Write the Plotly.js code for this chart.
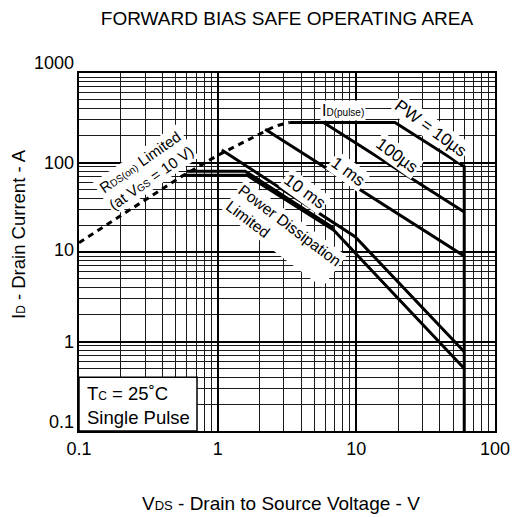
<!DOCTYPE html>
<html><head><meta charset="utf-8">
<script src="https://cdn.plot.ly/plotly-3.0.1.min.js"></script>
<style>html,body{margin:0;padding:0;background:#fff}#chart{width:516px;height:517px}</style>
</head><body><div id="chart"></div>
<script>
// Data (V in volts, I in amperes)
const rdsV = [0.1, 0.3, 0.55, 1.0, 1.5, 2.0, 2.6, 3.3];
const rdsI = [12.7, 38, 70, 120, 165, 210, 255, 280];
const pw10usV = [3.3, 19, 60, 60];
const pw10usI = [280, 280, 90, 0.1];
const pw100usV = [5.8, 60];
const pw100usI = [280, 28];
const pw1msV = [2.2, 60];
const pw1msI = [235, 9];
const pw10msV = [1.07, 9.8, 60];
const pw10msI = [138, 14.8, 0.77];
const idDcV = [0.6, 1.58, 6.85];
const idDcI = [80, 80, 18.5];
const dcV = [0.58, 1.63, 6.85, 60];
const dcI = [72, 72, 17.6, 0.5];
const xTicks = [0.1, 1, 10, 100];
const xTickText = ['0.1', '1', '10', '100'];
const yTicks = [0.1, 1, 10, 100, 1000];
const yTickText = ['0.1', '1', '10', '100', '1000'];

const FONT = 'Liberation Sans, Arial, sans-serif';
const solid = {color: '#000', width: 3};
function tr(x, y, line) { return {x: x, y: y, type: 'scatter', mode: 'lines', line: line, hoverinfo: 'skip', showlegend: false}; }
function small(t, px) { return '<span style="font-size:' + px + 'px">' + t + '</span>'; }

const traces = [
  tr(rdsV, rdsI, {color: '#000', width: 3, dash: '6px,5px'}),
  tr(pw10usV, pw10usI, solid),
  tr(pw100usV, pw100usI, solid),
  tr(pw1msV, pw1msI, solid),
  tr(pw10msV, pw10msI, solid),
  tr(idDcV, idDcI, solid),
  tr(dcV, dcI, solid)
];

function lbl(text, x, y, angle, size, extra) {
  return Object.assign({text: text, xref: 'paper', yref: 'paper',
    x: (x - 79) / 416, y: (431 - y) / 358, xanchor: 'center', yanchor: 'middle',
    showarrow: false, textangle: angle, bgcolor: '#fff', borderpad: 1,
    font: {family: FONT, size: size, color: '#000'}}, extra || {});
}

const annotations = [
  lbl('R' + small('DS(on)', 10) + ' Limited<br>(at V' + small('GS', 10) + ' = 10 V)', 145, 170, -35, 15),
  lbl('I' + small('D(pulse)', 10), 343, 110, 0, 16),
  lbl('PW = 10µs', 431, 128, 36, 17),
  lbl('100µs', 397, 155, 36, 17),
  lbl('1 ms', 348, 171, 36, 17),
  lbl('10 ms', 305, 191, 36, 17),
  lbl('Power Dissipation<br>Limited', 284, 233, 37, 15.5, {align: 'left'}),
  lbl('T' + small('C', 12) + ' = 25˚C<br>Single Pulse', 85, 405, 0, 18.5, {xanchor: 'left', align: 'left', bgcolor: 'rgba(0,0,0,0)'}),
  lbl('V' + small('DS', 13) + ' - Drain to Source Voltage - V', 281, 503, 0, 19, {bgcolor: 'rgba(0,0,0,0)'}),
  lbl('I' + small('D', 12) + ' - Drain Current - A', 18.5, 234.5, -90, 18.5, {bgcolor: 'rgba(0,0,0,0)'})
];
// y tick labels (edge labels sit slightly inside in the reference)
const yLabelShift = [9, 0, 2, 0, 10];
yTicks.forEach(function (v, i) {
  annotations.push({text: yTickText[i], xref: 'paper', yref: 'y', x: 0, y: Math.log10(v),
    xanchor: 'right', yanchor: 'middle', xshift: -3, yshift: yLabelShift[i], showarrow: false,
    font: {family: FONT, size: 18, color: '#000'}});
});

const gridMinor = {dtick: 'D1', showgrid: true, gridcolor: '#1a1a1a', gridwidth: 1, ticks: ''};
const layout = {
  width: 516, height: 517,
  margin: {l: 79, r: 21, t: 73, b: 86},
  paper_bgcolor: '#fff', plot_bgcolor: '#fff',
  font: {family: FONT, size: 18, color: '#000'},
  title: {text: 'FORWARD BIAS SAFE OPERATING AREA', font: {family: FONT, size: 19, color: '#000'},
          x: 0.5, xref: 'paper', y: 1 - 18 / 517, yref: 'container', yanchor: 'middle'},
  xaxis: {type: 'log', range: [-1, 2], tickmode: 'array', tickvals: xTicks, ticktext: xTickText,
          showgrid: true, gridcolor: '#000', gridwidth: 2, showline: true, mirror: true,
          linecolor: '#000', linewidth: 2, ticks: '', zeroline: false, minor: gridMinor,
          tickfont: {family: FONT, size: 18, color: '#000'}},
  yaxis: {type: 'log', range: [-1, 3], tickmode: 'array', tickvals: yTicks, ticktext: yTickText,
          showticklabels: false,
          showgrid: true, gridcolor: '#000', gridwidth: 2, showline: true, mirror: true,
          linecolor: '#000', linewidth: 2, ticks: '', zeroline: false, minor: gridMinor},
  shapes: [{type: 'rect', xref: 'paper', yref: 'paper', x0: 0, x1: (197 - 79) / 416, y0: 0, y1: (431 - 377.3) / 358,
            fillcolor: '#fff', line: {color: '#000', width: 1.5}, layer: 'above'}],
  annotations: annotations
};

Plotly.newPlot('chart', traces, layout, {displayModeBar: false, staticPlot: true});
</script></body></html>
